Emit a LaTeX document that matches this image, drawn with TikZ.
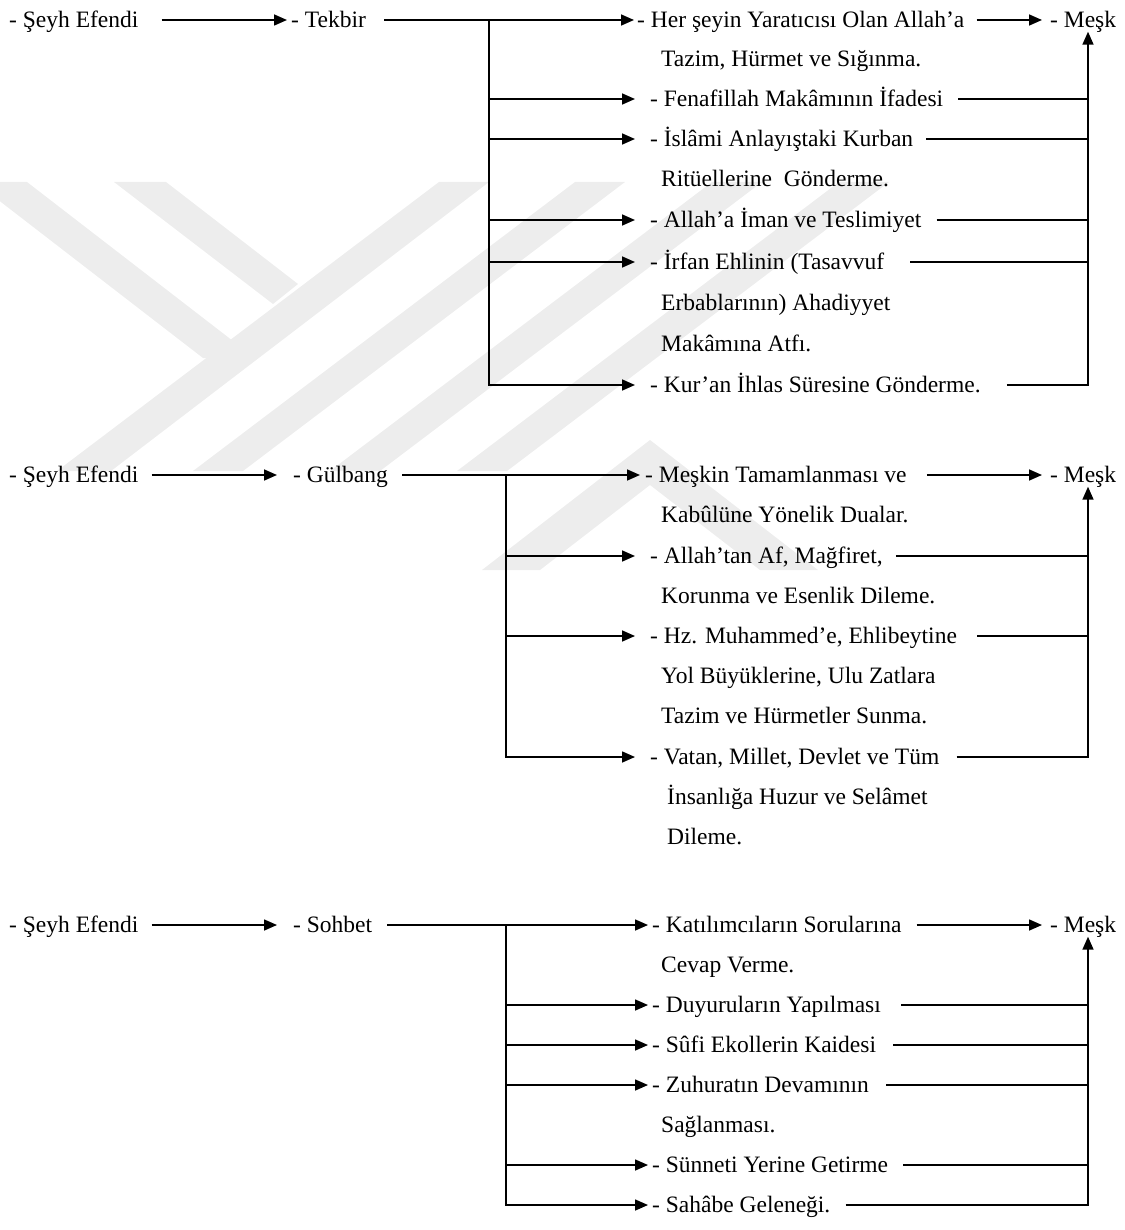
\documentclass[tikz,border=0pt]{standalone}
\usepackage{fontspec}
\setmainfont{Liberation Serif}
\usetikzlibrary{arrows.meta}
\definecolor{wm}{HTML}{EDEDED}
\newcommand{\diafont}{\fontsize{23.5pt}{28pt}\selectfont}
\begin{document}
\begin{tikzpicture}[x=1pt,y=-1pt,
  lbl/.style={anchor=west, inner sep=0pt, text height=15pt, text depth=0pt, font=\diafont},
  conn/.style={line width=1.6pt},
  arr/.style={conn, -{Triangle[length=13pt,width=11pt]}}]
\useasboundingbox (0,0) rectangle (1124,1230);
% watermark
\begin{scope}
\clip (0,0) rectangle (1124,1230);
\fill[wm] (57,471) -- (111,471) -- (489,182) -- (439,182) -- cycle;
\fill[wm] (-25,182) -- (27,182) -- (255,358) -- (203,358) -- cycle;
\fill[wm] (114,182) -- (166,182) -- (298,284) -- (273,304) -- cycle;
\fill[wm] (193,471) -- (243,471) -- (625,182) -- (575,182) -- cycle;
\fill[wm] (330,471) -- (380,471) -- (762,182) -- (712,182) -- cycle;
\fill[wm] (457,471) -- (507,471) -- (889,182) -- (839,182) -- cycle;
\fill[wm] (650,440) -- (818,570) -- (760,570) -- (650,485) -- (540,570) -- (482,570) -- cycle;
\end{scope}
\coordinate (rx) at (1088,0);
% ---------------- group 1: Tekbir
\node[lbl] (s1) at (9,20) {- Şeyh Efendi};
\node[lbl] (t1) at (291,20) {- Tekbir};
\node[lbl] (a1) at (637,20) {- Her şeyin Yaratıcısı Olan Allah’a};
\node[lbl] (a1x) at (661,59) {Tazim, Hürmet ve Sığınma.};
\node[lbl] (m1) at (1050,20) {- Meşk};
\node[lbl] (b1) at (650,99) {- Fenafillah Makâmının İfadesi};
\node[lbl] (c1) at (650,139) {- İslâmi Anlayıştaki Kurban};
\node[lbl] (c1x) at (661,179) {Ritüellerine\ \ Gönderme.};
\node[lbl] (d1) at (650,220) {- Allah’a İman ve Teslimiyet};
\node[lbl] (e1) at (650,262) {- İrfan Ehlinin (Tasavvuf};
\node[lbl] (e1x) at (661,303) {Erbablarının) Ahadiyyet};
\node[lbl] (e1y) at (661,344) {Makâmına Atfı.};
\node[lbl] (f1) at (650,385) {- Kur’an İhlas Süresine Gönderme.};
\coordinate (tr1) at (489,20);
\draw[arr] ([xshift=23pt]s1.east) -- ([xshift=-4pt]t1.west);
\draw[arr] ([xshift=18pt]t1.east) -- ([xshift=-3pt]a1.west);
\draw[arr] (tr1) -- (tr1 |- f1.west) -- ([xshift=-15pt]f1.west);
\foreach \n in {b1,c1,d1,e1} \draw[arr] (tr1 |- \n.west) -- ([xshift=-15pt]\n.west);
\draw[arr] ([xshift=12pt]a1.east) -- ([xshift=-8pt]m1.west);
\draw[conn] ([xshift=15pt]b1.east) -- (b1.east -| rx);
\draw[conn] ([xshift=13pt]c1.east) -- (c1.east -| rx);
\draw[conn] ([xshift=15pt]d1.east) -- (d1.east -| rx);
\draw[conn] ([xshift=26pt]e1.east) -- (e1.east -| rx);
\draw[arr] ([xshift=26pt]f1.east) -- (f1.east -| rx) -- ([yshift=-4pt]m1.south -| rx);
% ---------------- group 2: Gulbang
\node[lbl] (s2) at (9,475) {- Şeyh Efendi};
\node[lbl] (t2) at (293,475) {- Gülbang};
\node[lbl] (a2) at (645,475) {- Meşkin Tamamlanması ve};
\node[lbl] (a2x) at (661,515) {Kabûlüne Yönelik Dualar.};
\node[lbl] (m2) at (1050,475) {- Meşk};
\node[lbl] (b2) at (650,556) {- Allah’tan Af, Mağfiret,};
\node[lbl] (b2x) at (661,596) {Korunma ve Esenlik Dileme.};
\node[lbl] (c2) at (650,636) {- Hz. Muhammed’e, Ehlibeytine};
\node[lbl] (c2x) at (661,676) {Yol Büyüklerine, Ulu Zatlara};
\node[lbl] (c2y) at (661,716) {Tazim ve Hürmetler Sunma.};
\node[lbl] (d2) at (650,757) {- Vatan, Millet, Devlet ve Tüm};
\node[lbl] (d2x) at (667,797) {İnsanlığa Huzur ve Selâmet};
\node[lbl] (d2y) at (667,837) {Dileme.};
\coordinate (tr2) at (506,475);
\draw[arr] ([xshift=13pt]s2.east) -- ([xshift=-16pt]t2.west);
\draw[arr] ([xshift=14pt]t2.east) -- ([xshift=-5pt]a2.west);
\draw[arr] (tr2) -- (tr2 |- d2.west) -- ([xshift=-15pt]d2.west);
\foreach \n in {b2,c2} \draw[arr] (tr2 |- \n.west) -- ([xshift=-15pt]\n.west);
\draw[arr] ([xshift=20pt]a2.east) -- ([xshift=-8pt]m2.west);
\draw[conn] ([xshift=13pt]b2.east) -- (b2.east -| rx);
\draw[conn] ([xshift=20pt]c2.east) -- (c2.east -| rx);
\draw[arr] ([xshift=17pt]d2.east) -- (d2.east -| rx) -- ([yshift=-4pt]m2.south -| rx);
% ---------------- group 3: Sohbet
\node[lbl] (s3) at (9,925) {- Şeyh Efendi};
\node[lbl] (t3) at (293,925) {- Sohbet};
\node[lbl] (a3) at (652,925) {- Katılımcıların Sorularına};
\node[lbl] (a3x) at (661,965) {Cevap Verme.};
\node[lbl] (m3) at (1050,925) {- Meşk};
\node[lbl] (b3) at (652,1005) {- Duyuruların Yapılması};
\node[lbl] (c3) at (652,1045) {- Sûfi Ekollerin Kaidesi};
\node[lbl] (d3) at (652,1085) {- Zuhuratın Devamının};
\node[lbl] (d3x) at (661,1125) {Sağlanması.};
\node[lbl] (e3) at (652,1165) {- Sünneti Yerine Getirme};
\node[lbl] (f3) at (652,1205) {- Sahâbe Geleneği.};
\coordinate (tr3) at (506,925);
\draw[arr] ([xshift=13pt]s3.east) -- ([xshift=-16pt]t3.west);
\draw[arr] ([xshift=15pt]t3.east) -- ([xshift=-4pt]a3.west);
\draw[arr] (tr3) -- (tr3 |- f3.west) -- ([xshift=-4pt]f3.west);
\foreach \n in {b3,c3,d3,e3} \draw[arr] (tr3 |- \n.west) -- ([xshift=-4pt]\n.west);
\draw[arr] ([xshift=15pt]a3.east) -- ([xshift=-8pt]m3.west);
\draw[conn] ([xshift=20pt]b3.east) -- (b3.east -| rx);
\draw[conn] ([xshift=17pt]c3.east) -- (c3.east -| rx);
\draw[conn] ([xshift=17pt]d3.east) -- (d3.east -| rx);
\draw[conn] ([xshift=15pt]e3.east) -- (e3.east -| rx);
\draw[arr] ([xshift=15pt]f3.east) -- (f3.east -| rx) -- ([yshift=-4pt]m3.south -| rx);
\end{tikzpicture}
\end{document}
